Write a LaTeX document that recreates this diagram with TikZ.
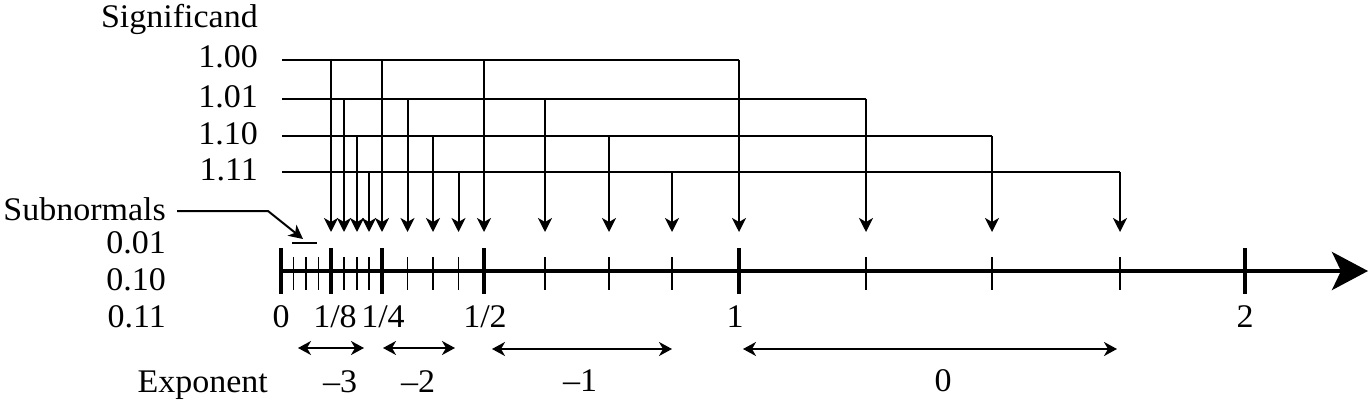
\documentclass[tikz,border=0pt]{standalone}
\usepackage{fontspec}
\setmainfont{Liberation Serif}[FakeStretch=1.03]
\usetikzlibrary{arrows.meta}
\begin{document}
\begin{tikzpicture}[x=1pt,y=-1pt,
  lbl/.style={inner sep=0pt,font=\fontsize{33}{39}\selectfont},
  thin line/.style={line width=2pt},
  drop/.style={thin line,-{Stealth[length=14pt,width=14pt,inset=4pt]}},
  span/.style={thin line,{Stealth[length=13pt,width=14pt,inset=4pt]}-{Stealth[length=13pt,width=14pt,inset=4pt]}},
  axis/.style={line width=4pt,-{Stealth[length=36pt,width=38pt,inset=9pt]}},
  major/.style={line width=4pt},
  minor/.style={line width=1.5pt}]
\useasboundingbox (0,0) rectangle (1369,409);

% labels on the left
\node[lbl,anchor=base east] (sig) at (258,28) {Significand};
\node[lbl,anchor=base east] (s00) at (258,68) {1.00};
\node[lbl,anchor=base east] (s01) at (258,108) {1.01};
\node[lbl,anchor=base east] (s10) at (258,145) {1.10};
\node[lbl,anchor=base east] (s11) at (258,181) {1.11};
\node[lbl,anchor=base east] (sub) at (166,220) {Subnormals};
\node[lbl,anchor=base east] (u01) at (166,253) {0.01};
\node[lbl,anchor=base east] (u10) at (166,290) {0.10};
\node[lbl,anchor=base east] (u11) at (166,327) {0.11};

% axis
\coordinate (a0) at (281,271);
\coordinate (aend) at (1368,271);
\draw[axis] (a0) -- (aend);

% major ticks
\foreach \x [count=\i] in {281,331,382,484,739,1245}{
  \coordinate (Mt\i) at (\x,248);
  \coordinate (Mb\i) at (\x,294);
  \draw[major] (Mt\i) -- (Mb\i);
}
% minor ticks
\foreach \x [count=\i] in {293.5,306,318.5,344,357,369,407.5,433,458.5,545,609,672,866,992,1120}{
  \coordinate (mt\i) at (\x,257);
  \coordinate (mb\i) at (\x,290);
  \draw[minor] (mt\i) -- (mb\i);
}

% tick labels
\node[lbl,anchor=base] (l0) at (281,327) {0};
\node[lbl,anchor=base] (l8) at (335,327) {1/8};
\node[lbl,anchor=base] (l4) at (383,327) {1/4};
\node[lbl,anchor=base] (l2) at (485,327) {1/2};
\node[lbl,anchor=base] (l1) at (735,327) {1};
\node[lbl,anchor=base] (ll) at (1245,327) {2};

% significand rows
\coordinate (r00) at (282,60);
\coordinate (r01) at (282,99);
\coordinate (r10) at (282,136);
\coordinate (r11) at (282,172);
\coordinate (c00) at (739,60);
\coordinate (c01) at (866,99);
\coordinate (c10) at (992,136);
\coordinate (c11) at (1120,172);
\draw[thin line] (r00) -- (c00);
\draw[thin line] (r01) -- (c01);
\draw[thin line] (r10) -- (c10);
\draw[thin line] (r11) -- (c11);

% drop arrows
\foreach \x/\y [count=\i] in {331/60,382/60,484/60,739/60,
    344/99,407.5/99,545/99,866/99,
    357/136,433/136,609/136,992/136,
    369/172,458.5/172,672/172,1120/172}{
  \coordinate (ds\i) at (\x,\y);
  \coordinate (de\i) at (\x,232);
  \draw[drop] (ds\i) -- (de\i);
}

% subnormals pointer
\coordinate (substart) at (177,211);
\coordinate (subbend) at (268,211);
\coordinate (subtip) at (303,239);
\coordinate (brA) at (292,243);
\coordinate (brB) at (317,243);
\draw[drop] (substart) -- (subbend) -- (subtip);
\draw[thin line] (brA) -- (brB);

% exponent ranges
\node[lbl,anchor=base east] (exp) at (268,392) {Exponent};
\coordinate (x3a) at (298,348); \coordinate (x3b) at (364,348);
\coordinate (x2a) at (383,348); \coordinate (x2b) at (455,348);
\coordinate (x1a) at (492,349); \coordinate (x1b) at (672,349);
\coordinate (x0a) at (743,349); \coordinate (x0b) at (1117,349);
\draw[span] (x3a) -- (x3b);
\draw[span] (x2a) -- (x2b);
\draw[span] (x1a) -- (x1b);
\draw[span] (x0a) -- (x0b);
\node[lbl,anchor=base] (e3) at (340,392) {–3};
\node[lbl,anchor=base] (e2) at (418,392) {–2};
\node[lbl,anchor=base] (e1) at (580,391) {–1};
\node[lbl,anchor=base] (e0) at (943,391) {0};
\end{tikzpicture}
\end{document}
